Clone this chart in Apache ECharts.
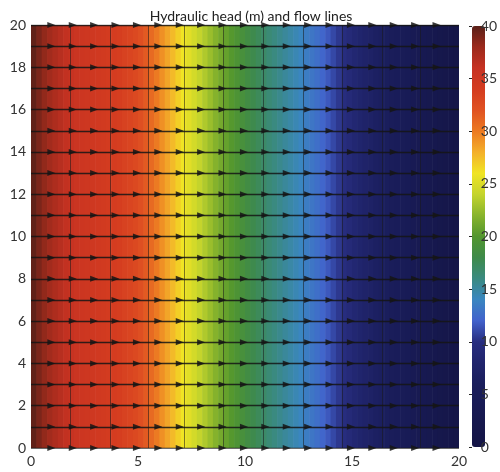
<!DOCTYPE html>
<html>
<head>
<meta charset="utf-8">
<script src="https://cdn.jsdelivr.net/npm/echarts@6/dist/echarts.min.js"></script>
<style>
html,body{margin:0;padding:0;background:#fff;}
#chart{width:500px;height:472px;}
</style>
</head>
<body>
<div id="chart"></div>
<script>
// Hydraulic head (m) sampled in strips of 0.25 along x (uniform in y)
const headValues = [
  39.8, 39.0, 38.3, 37.7, 37.2, 36.7, 36.2, 35.8,
  35.5, 35.2, 35.0, 34.8, 34.6, 34.4, 34.2, 34.0,
  33.8, 33.5, 33.2, 32.8, 32.3, 31.6, 30.8, 30.0,
  29.2, 28.4, 27.6, 26.8, 26.0, 25.3, 24.7, 24.0,
  23.3, 22.6, 21.9, 21.3, 20.7, 20.1, 19.5, 19.0,
  18.4, 17.9, 17.4, 16.9, 16.4, 16.0, 15.6, 15.2,
  14.8, 14.4, 14.0, 13.5, 13.1, 12.7, 12.2, 11.6,
  11.0, 10.4, 9.8, 9.2, 8.6, 8.1, 7.6, 7.2,
  6.8, 6.4, 6.0, 5.6, 5.2, 4.8, 4.4, 4.0,
  3.6, 3.2, 2.8, 2.4, 2.0, 1.6, 1.2, 0.8
];
// Flow line rows (y) and arrow head positions (x)
const flowRows = [0,1,2,3,4,5,6,7,8,9,10,11,12,13,14,15,16,17,18,19,20];
const arrowX = [0.95,1.95,2.95,3.95,4.95,5.95,6.95,7.95,8.95,9.95,10.95,11.95,12.95,13.95,14.95,15.95,16.95,17.95,18.95];
// Model cell boundaries (x)
const cellEdges = [1.82, 3.69, 5.46, 7.15, 9.0, 10.84, 12.7, 14.55, 16.4, 18.2];
// Axis ticks
const xTicks = [0, 5, 10, 15, 20];
const yTicks = [0, 2, 4, 6, 8, 10, 12, 14, 16, 18, 20];
const cbTicks = [0, 5, 10, 15, 20, 25, 30, 35, 40];

const xMax = 20, yMax = 20, hMax = 40;
const stripW = xMax / headValues.length;
const headData = headValues.map((v, i) => [i * stripW, (i + 1) * stripW, v]);

const flowLines = flowRows.map(y => ({coords: [[0, y], [xMax, y]]}));
const arrows = [];
flowRows.forEach(y => arrowX.forEach(x => arrows.push([x, y])));
const cellLines = cellEdges.map(x => ({coords: [[x, 0], [x, yMax]]}));

const jet = ['#141446','#16184c','#181a54','#1a1e5c','#20246c','#282e80','#4262cc','#3a86c0',
  '#3a8a80','#3e8a4a','#52962e','#88b42c','#c4d42c','#f0e424','#f4b02a','#ec7a22',
  '#e05222','#d43c20','#c63222','#9c2a1c','#5a2018'];

const font = 'Lato, "Open Sans", sans-serif';
const chart = echarts.init(document.getElementById('chart'));
chart.setOption({
  animation: false,
  title: {
    text: 'Hydraulic head (m) and flow lines',
    left: 246, top: 4, textAlign: 'center',
    textStyle: {fontFamily: font, fontSize: 14, fontWeight: 'normal', color: '#222'}
  },
  grid: [
    {left: 31, top: 25, width: 428, height: 423},
    {left: 472, top: 26, width: 13, height: 421}
  ],
  xAxis: [
    {gridIndex: 0, type: 'value', min: 0, max: xMax, interval: 5,
     axisLine: {show: false}, axisTick: {show: false}, splitLine: {show: false},
     axisLabel: {fontFamily: font, fontSize: 14, color: '#333', margin: 6,
       formatter: v => xTicks.includes(v) ? String(v) : ''}},
    {gridIndex: 1, type: 'value', min: 0, max: 1, show: false}
  ],
  yAxis: [
    {gridIndex: 0, type: 'value', min: 0, max: yMax, interval: 2,
     axisLine: {show: false}, axisTick: {show: false}, splitLine: {show: false},
     axisLabel: {fontFamily: font, fontSize: 14, color: '#333', margin: 5,
       formatter: v => yTicks.includes(v) ? String(v) : ''}},
    {gridIndex: 1, type: 'value', min: 0, max: hMax, interval: 5, position: 'right', z: 10,
     axisLine: {show: false}, splitLine: {show: false},
     axisTick: {show: true, inside: true, length: 3, lineStyle: {color: '#222'}},
     axisLabel: {fontFamily: font, fontSize: 14, color: '#333', margin: 5,
       formatter: v => cbTicks.includes(v) ? String(v) : ''}}
  ],
  visualMap: {
    type: 'continuous', min: 0, max: hMax, seriesIndex: 0, dimension: 2,
    inRange: {color: jet},
    left: 472, top: 26, itemWidth: 13, itemHeight: 421, padding: 0,
    calculable: false, hoverLink: false, text: null, showLabel: false,
    orient: 'vertical'
  },
  series: [
    {
      type: 'custom', xAxisIndex: 0, yAxisIndex: 0,
      dimensions: ['x0', 'x1', 'h'],
      encode: {x: [0, 1]},
      data: headData,
      clip: true,
      renderItem: function (params, api) {
        const p0 = api.coord([api.value(0), yMax]);
        const p1 = api.coord([api.value(1), 0]);
        return {
          type: 'rect',
          shape: {x: p0[0], y: p0[1], width: p1[0] - p0[0] + 0.6, height: p1[1] - p0[1]},
          style: {fill: api.visual('color')}
        };
      },
      z: 1
    },
    {
      type: 'lines', coordinateSystem: 'cartesian2d', xAxisIndex: 0, yAxisIndex: 0,
      data: cellLines, silent: true,
      lineStyle: {color: '#1a1a1a', width: 1, opacity: 0.55},
      z: 2
    },
    {
      type: 'lines', coordinateSystem: 'cartesian2d', xAxisIndex: 0, yAxisIndex: 0,
      data: flowLines, silent: true,
      lineStyle: {color: '#151515', width: 1.4, opacity: 0.85},
      z: 3
    },
    {
      type: 'scatter', xAxisIndex: 0, yAxisIndex: 0,
      data: arrows, clip: true, silent: true,
      symbol: 'triangle', symbolSize: [6, 8], symbolRotate: -90,
      itemStyle: {color: '#151515', opacity: 0.85},
      z: 4
    }
  ]
});
</script>
</body>
</html>
